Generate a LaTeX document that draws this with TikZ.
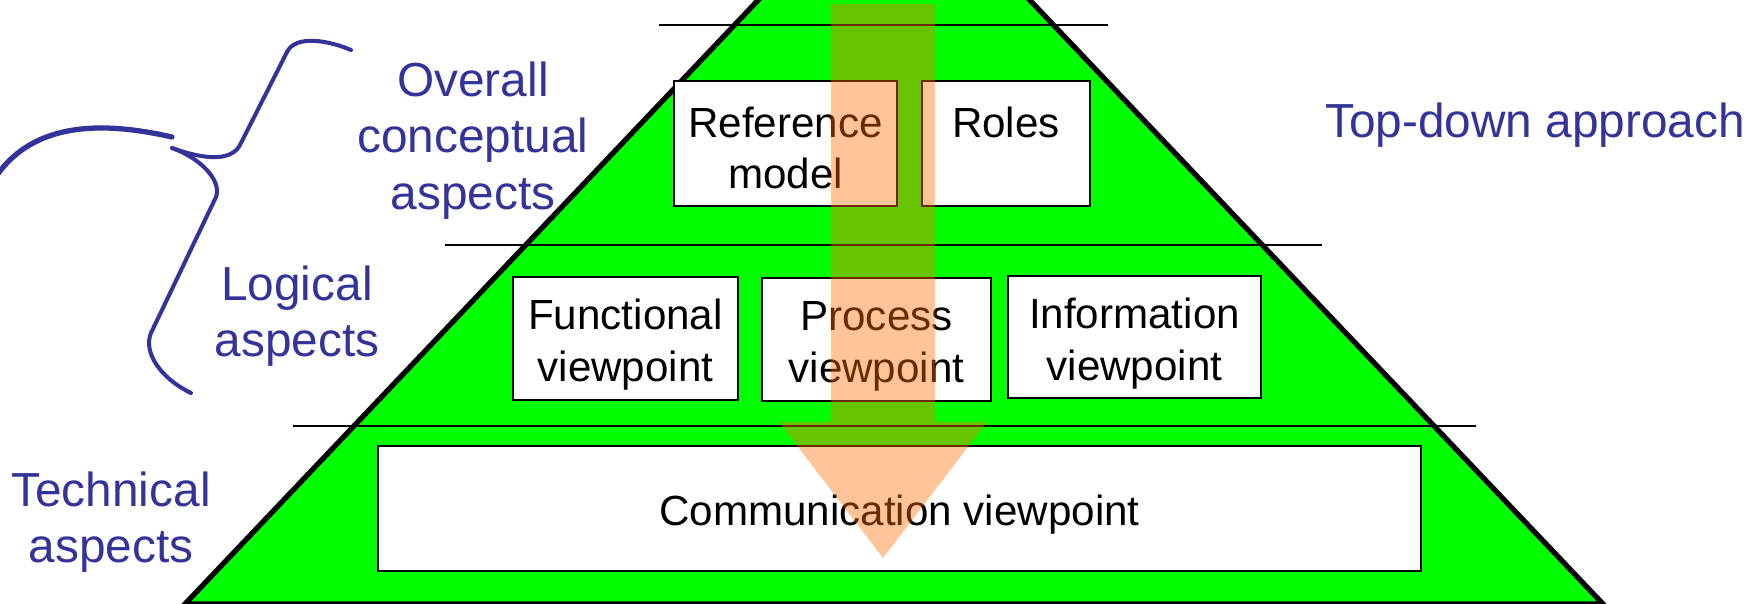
\documentclass[tikz,border=0pt]{standalone}
\usepackage{fontspec}
\setmainfont{Liberation Sans}
\usepackage{tikz}

\definecolor{aspectblue}{RGB}{51,51,153}
\definecolor{layergreen}{RGB}{0,255,0}
\definecolor{flow}{RGB}{255,110,0}

\newcommand{\viewfont}{\fontsize{24}{29.4}\selectfont}
\newcommand{\aspectfont}{\fontsize{27.2}{32}\selectfont}

\begin{document}
\begin{tikzpicture}[
        x=0.02cm, y=-0.02cm,
        declare function={
            MidX=894;
            ApexY=-143;
            HalfBase=709;
            Width=1758;
            Height=604;
        },
        view/.style={draw, fill=white, line width=1.1pt, align=center, inner sep=0pt, font=\viewfont, text height=54pt},
        topview/.style={view, text height=51.7pt},
        wideview/.style={view, text height=24.3pt},
        aspect/.style={text=aspectblue, align=center, font=\aspectfont},
        level/.style={line width=1pt},
        brace/.style={aspectblue, line width=2.3pt, line cap=round, line join=round},
    ]
        \useasboundingbox (0, 0) rectangle (Width, Height);

        % pyramid, its tip runs off the top
        \begin{scope}
            \clip (0, 0) rectangle (Width, Height);
            \fill[layergreen] ({MidX - HalfBase}, Height) -- ({MidX + HalfBase}, Height) -- (MidX, ApexY) -- cycle;
            \draw[line width=3pt] ({MidX - HalfBase}, Height) -- ({MidX + HalfBase}, Height) -- (MidX, ApexY) -- cycle;
        \end{scope}

        \draw[level] (659, 25) -- (1108, 25);
        \draw[level] (445, 245) -- (1322, 245);
        \draw[level] (293, 426) -- (1476, 426);

        % viewpoints
        \node[topview, minimum width=4.46cm, minimum height=2.5cm] (refmodel) at (785.5, 143.5) {Reference\\model};
        \node[topview, minimum width=3.36cm, minimum height=2.5cm] (roles) at (1006, 143.5) {Roles\\\mbox{}};
        \node[view, minimum width=4.5cm, minimum height=2.46cm] (functional) at (625.5, 338.5) {Functional\\viewpoint};
        \node[view, minimum width=4.58cm, minimum height=2.46cm] (process) at (876.5, 339.5) {Process\\viewpoint};
        \node[view, minimum width=5.06cm, minimum height=2.44cm] (information) at (1134.5, 337) {Information\\viewpoint};
        \node[wideview, minimum width=20.86cm, minimum height=2.5cm] (communication) at (899.5, 508.5) {Communication viewpoint};

        % aspects
        \node[aspect] (overall) at (473, 140.5) {Overall\\conceptual\\aspects};
        \node[aspect] (logical) at (297, 316.5) {Logical\\aspects};
        \node[aspect] (technical) at (111, 522.5) {Technical\\aspects};
        \node[aspect] (topdown) at (1535, 125.5) {Top-down approach};

        \draw[brace] (351, 50) .. controls (330, 41) and (296, 34) .. (287, 52) -- (241, 143)
            .. controls (233, 162) and (205, 160) .. (172, 148);
        \draw[brace] (172, 148) .. controls (200, 158) and (222, 180) .. (216, 197) -- (151, 333)
            .. controls (143, 352) and (160, 378) .. (191, 393);
        \draw[brace, line width=3pt] (172, 137) .. controls (110, 123) and (35, 118) .. (-5, 178);

        % top-down arrow
        \coordinate (flowtip) at (883, 558);
        \fill[flow, opacity=0.4] (831, 4) -- (935, 4) -- (935, 422) -- (987, 422) -- (flowtip) -- (779, 422) -- (831, 422) -- cycle;
    \end{tikzpicture}
\end{document}
